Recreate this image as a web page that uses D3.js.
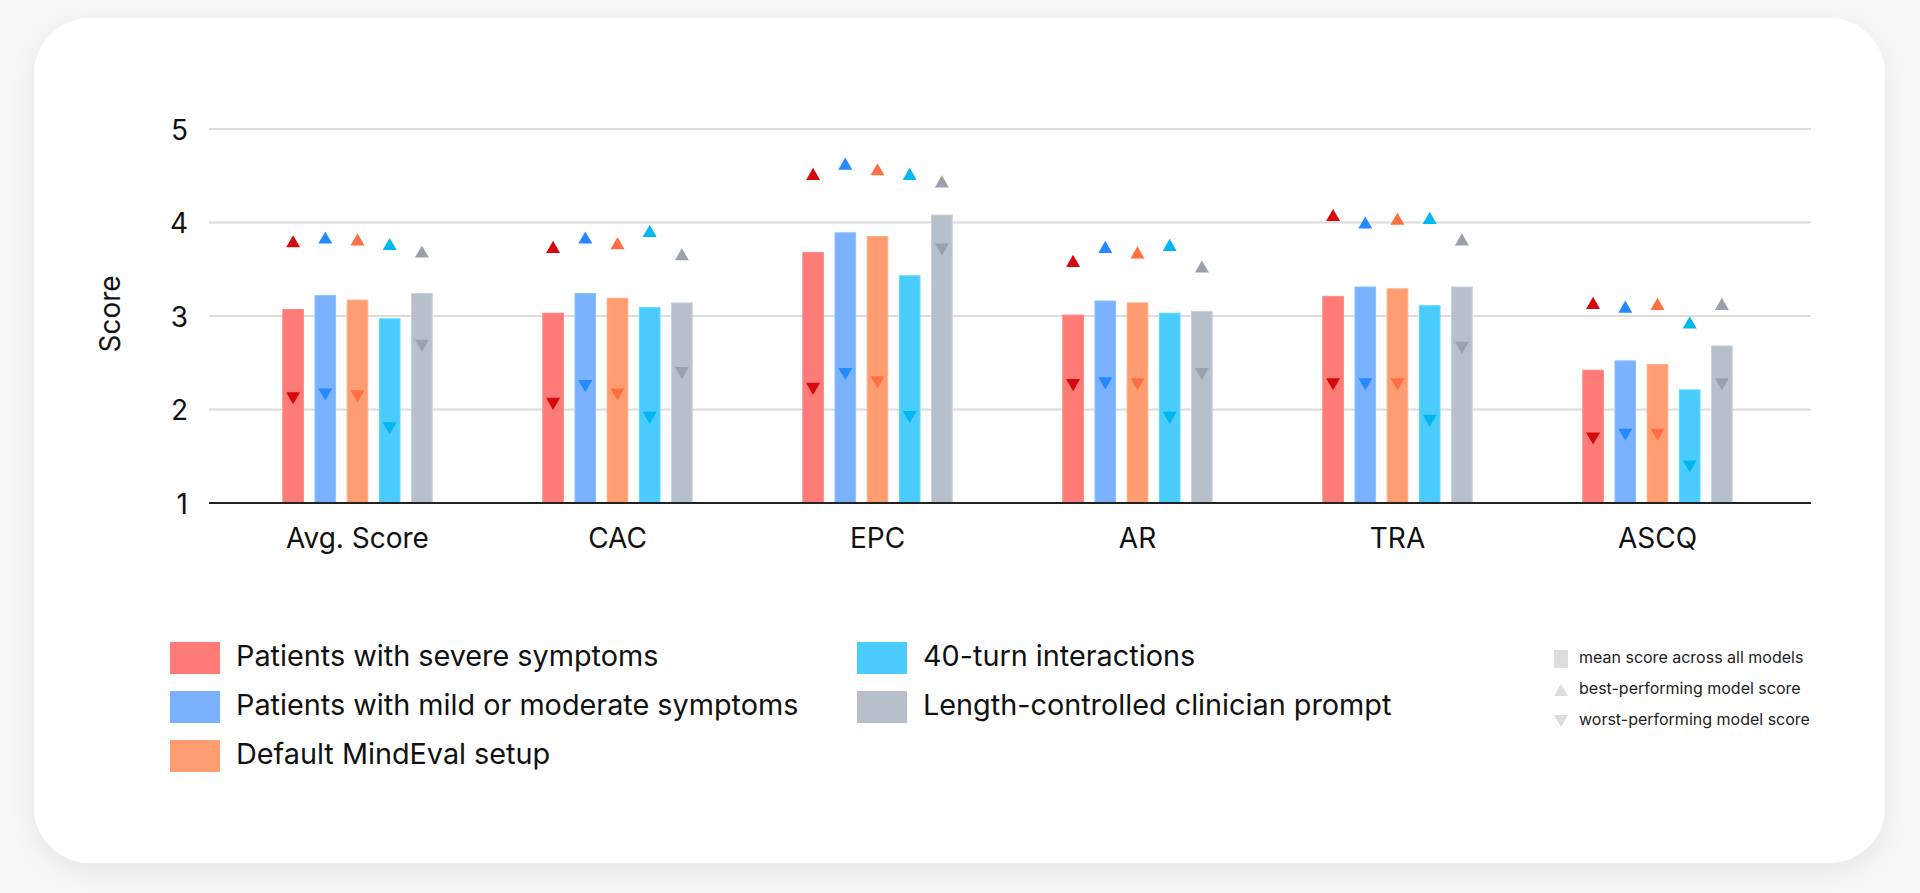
<!DOCTYPE html>
<html>
<head>
<meta charset="utf-8">
<script src="https://cdn.jsdelivr.net/npm/d3@7"></script>
<style>
  html, body { margin: 0; padding: 0; background: #f6f6f6; }
  svg { display: block; font-family: Inter, "Noto Sans", sans-serif; }
</style>
</head>
<body>
<svg id="chart" width="1920" height="893"></svg>
<script>
// ---- data ----
const categories = ["Avg. Score", "CAC", "EPC", "AR", "TRA", "ASCQ"];
const seriesNames = [
  "Patients with severe symptoms",
  "Patients with mild or moderate symptoms",
  "Default MindEval setup",
  "40-turn interactions",
  "Length-controlled clinician prompt"
];
const meanSevere  = [3.07, 3.03, 3.68, 3.01, 3.21, 2.42];
const meanMild    = [3.22, 3.24, 3.89, 3.16, 3.31, 2.52];
const meanDefault = [3.17, 3.19, 3.85, 3.14, 3.29, 2.48];
const meanTurn40  = [2.97, 3.09, 3.43, 3.03, 3.11, 2.21];
const meanLength  = [3.24, 3.14, 4.08, 3.05, 3.31, 2.68];

const bestSevere  = [3.80, 3.74, 4.52, 3.59, 4.08, 3.14];
const bestMild    = [3.84, 3.84, 4.63, 3.74, 4.00, 3.10];
const bestDefault = [3.82, 3.78, 4.57, 3.68, 4.04, 3.13];
const bestTurn40  = [3.77, 3.91, 4.52, 3.76, 4.05, 2.93];
const bestLength  = [3.69, 3.66, 4.44, 3.53, 3.82, 3.13];

const worstSevere  = [2.12, 2.06, 2.22, 2.26, 2.27, 1.69];
const worstMild    = [2.16, 2.25, 2.38, 2.28, 2.27, 1.73];
const worstDefault = [2.14, 2.16, 2.29, 2.27, 2.27, 1.73];
const worstTurn40  = [1.80, 1.91, 1.92, 1.91, 1.88, 1.39];
const worstLength  = [2.68, 2.39, 3.71, 2.38, 2.66, 2.27];

const yTicks = [1, 2, 3, 4, 5];
const markerLegend = ["mean score across all models", "best-performing model score", "worst-performing model score"];

// ---- styles ----
const barColors = ["#ff7b77", "#7bb2ff", "#ff9d72", "#4ccbff", "#b6bfca"];
const markColors = ["#d60a0a", "#2589ff", "#ff6f43", "#00b7f1", "#9aa1ac"];

const means  = [meanSevere, meanMild, meanDefault, meanTurn40, meanLength];
const bests  = [bestSevere, bestMild, bestDefault, bestTurn40, bestLength];
const worsts = [worstSevere, worstMild, worstDefault, worstTurn40, worstLength];

const svg = d3.select("#chart");
const defs = svg.append("defs");
const f = defs.append("filter").attr("id", "shadow").attr("x", "-10%").attr("y", "-10%").attr("width", "120%").attr("height", "130%");
f.append("feDropShadow").attr("dx", 0).attr("dy", 8).attr("stdDeviation", 12).attr("flood-color", "#000").attr("flood-opacity", 0.06);

// card
svg.append("rect").attr("x", 34).attr("y", 18).attr("width", 1851).attr("height", 845)
  .attr("rx", 56).attr("fill", "#fff").attr("filter", "url(#shadow)");

// scales
const plotLeft = 209, plotRight = 1811;
const y = d3.scaleLinear().domain([1, 5]).range([503, 129]);
const x0 = d3.scaleBand().domain(categories).range([227.5, 1787.5]).padding(0);
const x1 = d3.scaleBand().domain(d3.range(seriesNames.length))
  .range([-80.5, 80.5]).paddingInner(0.36).paddingOuter(0.18);

// gridlines
svg.append("g").selectAll("line").data(yTicks.filter(t => t > 1)).join("line")
  .attr("x1", plotLeft).attr("x2", plotRight)
  .attr("y1", d => y(d)).attr("y2", d => y(d))
  .attr("stroke", "#dcdcdc").attr("stroke-width", 2);

// y axis labels
const yAxis = d3.axisLeft(y).tickValues(yTicks).tickSize(0).tickPadding(0).tickFormat(d3.format("d"));
const gy = svg.append("g").attr("transform", `translate(${plotLeft - 21},0)`).call(yAxis);
gy.select(".domain").remove();
gy.selectAll("text").attr("font-size", 28).attr("fill", "#111").attr("font-family", "Inter, sans-serif").attr("dy", "0.36em");

svg.append("text").attr("transform", "translate(112,314) rotate(-90)")
  .attr("text-anchor", "middle").attr("dominant-baseline", "middle")
  .attr("font-size", 28).attr("fill", "#111").text("Score");

// bars
const groups = svg.append("g").selectAll("g").data(categories).join("g")
  .attr("transform", d => `translate(${x0(d) + x0.bandwidth() / 2},0)`);

groups.each(function(cat, ci) {
  const g = d3.select(this);
  seriesNames.forEach((s, si) => {
    g.append("rect")
      .attr("x", x1(si)).attr("width", x1.bandwidth())
      .attr("y", y(means[si][ci])).attr("height", y(1) - y(means[si][ci]))
      .attr("fill", barColors[si])
      .attr("stroke", d3.color(barColors[si]).brighter(0.25)).attr("stroke-width", 1);
  });
});

// triangle symbols centred on their bounding box
const triUp = { draw(ctx, size) { const w = Math.sqrt(size * 4 / Math.sqrt(3)); const h = w * Math.sqrt(3) / 2;
  ctx.moveTo(0, -h / 2); ctx.lineTo(w / 2, h / 2); ctx.lineTo(-w / 2, h / 2); ctx.closePath(); } };
const triDown = { draw(ctx, size) { const w = Math.sqrt(size * 4 / Math.sqrt(3)); const h = w * Math.sqrt(3) / 2;
  ctx.moveTo(0, h / 2); ctx.lineTo(w / 2, -h / 2); ctx.lineTo(-w / 2, -h / 2); ctx.closePath(); } };
const upPath = d3.symbol().type(triUp).size(85)();
const downPath = d3.symbol().type(triDown).size(85)();

groups.each(function(cat, ci) {
  const g = d3.select(this);
  seriesNames.forEach((s, si) => {
    const cx = x1(si) + x1.bandwidth() / 2;
    g.append("path").attr("d", upPath).attr("fill", markColors[si])
      .attr("transform", `translate(${cx},${y(bests[si][ci])})`);
    g.append("path").attr("d", downPath).attr("fill", markColors[si])
      .attr("transform", `translate(${cx},${y(worsts[si][ci])})`);
  });
});

// baseline
svg.append("line").attr("x1", plotLeft).attr("x2", plotRight).attr("y1", y(1)).attr("y2", y(1))
  .attr("stroke", "#222").attr("stroke-width", 2);

// x axis labels
const xAxis = d3.axisBottom(x0).tickSize(0).tickPadding(0);
const gx = svg.append("g").attr("transform", `translate(0,${y(1) + 35})`).call(xAxis);
gx.select(".domain").remove();
gx.selectAll("text").attr("font-size", 28).attr("fill", "#111").attr("font-family", "Inter, sans-serif").attr("dy", "0.36em");

// legend
const legendCols = [170, 857];
const legendRows = [658, 707, 756];
seriesNames.forEach((s, si) => {
  const col = si < 3 ? 0 : 1;
  const row = si < 3 ? si : si - 3;
  const lg = svg.append("g").attr("transform", `translate(${legendCols[col]},${legendRows[row]})`);
  lg.append("rect").attr("x", 0).attr("y", -16).attr("width", 50).attr("height", 32).attr("fill", barColors[si]);
  lg.append("text").attr("x", 66).attr("y", 0).attr("dominant-baseline", "middle")
    .attr("font-size", 28.8).attr("fill", "#111").text(s);
});

// marker legend
const mlRows = [659, 690, 721];
markerLegend.forEach((t, i) => {
  const lg = svg.append("g").attr("transform", `translate(1561,${mlRows[i]})`);
  if (i === 0) lg.append("rect").attr("x", -7).attr("y", -9).attr("width", 14).attr("height", 18).attr("fill", "#dddddd");
  else lg.append("path").attr("d", i === 1 ? upPath : downPath).attr("fill", "#dddddd");
  lg.append("text").attr("x", 18).attr("y", 0).attr("dominant-baseline", "middle")
    .attr("font-size", 16).attr("fill", "#222").text(t);
});
</script>
</body>
</html>
